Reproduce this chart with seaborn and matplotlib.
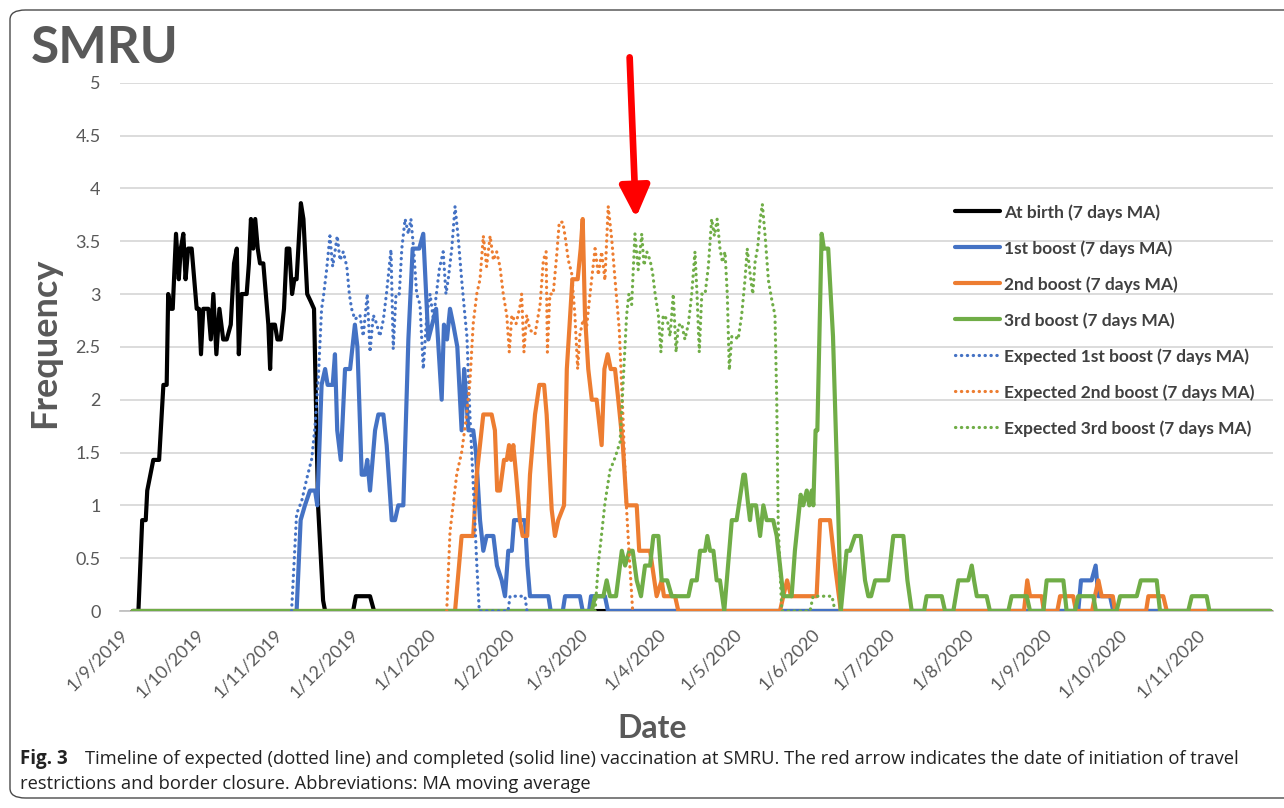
import numpy as np
import pandas as pd
import matplotlib
matplotlib.use("Agg")
import matplotlib.pyplot as plt
import seaborn as sns
from matplotlib.patches import FancyBboxPatch

# ---------------- data (day offsets from 1 Sep 2019, 7-day MA values) ----------------
START = pd.Timestamp("2019-09-01")
END = pd.Timestamp("2020-12-01")

birth_days = [5, 7.3, 8.8, 10.2, 10.8, 13.2, 15.5, 17.2, 18.5, 19.1,
              20.1, 20.9, 22.2, 23.3, 24.1, 25.1, 26.0, 27.0, 28.4, 30.4,
              31.3, 32.1, 33.0, 35.0, 36.0, 37.0, 38.2, 39.4, 40.9, 42.3,
              43.9, 45.2, 46.3, 47.1, 48.2, 50.2, 51.1, 51.9, 52.8, 53.6,
              54.6, 55.5, 56.8, 58.8, 59.5, 60.1, 61.4, 62.4, 63.7, 65.0,
              66.1, 67.1, 68.2, 69.1, 70.0, 71.7, 72.7, 74.2, 75.6, 76.9,
              78.5, 80.5, 81.3, 92.4, 93.5, 99.1, 100.7, 456]
birth_vals = [0, 0, 0.86, 0.86, 1.14, 1.43, 1.43, 2.14, 2.14, 3.0,
              2.86, 2.86, 3.57, 3.14, 3.43, 3.57, 3.14, 3.43, 3.43, 2.86,
              2.86, 2.43, 2.86, 2.86, 2.57, 3.0, 2.43, 2.86, 2.57, 2.57,
              2.71, 3.29, 3.43, 2.43, 3.0, 3.0, 3.29, 3.71, 3.43, 3.71,
              3.43, 3.29, 3.29, 2.71, 2.29, 2.71, 2.71, 2.57, 2.57, 2.86,
              3.43, 3.43, 3.0, 3.14, 3.14, 3.86, 3.71, 3.0, 2.93, 2.86,
              1.0, 0.1, 0, 0, 0.14, 0.14, 0, 0]

boost1_days = [5, 70.0, 71.6, 73.3, 75.3, 77.3, 78.2, 79.9, 81.3, 82.3,
               84.3, 85.2, 86.1, 87.5, 89.2, 91.2, 93.1, 94.1, 95.8, 97.1,
               98.0, 99.1, 101.1, 102.4, 104.4, 105.7, 107.7, 109.0, 110.3, 112.3,
               114.3, 116.0, 118.6, 120.2, 122.2, 123.7, 125.3, 127.5, 128.4, 129.6,
               130.8, 132.1, 133.7, 135.4, 136.4, 137.1, 138.1, 140.0, 141.1, 142.7,
               144.0, 145.3, 148.0, 149.4, 151.3, 152.6, 153.9, 155.3, 156.2, 160.5,
               161.5, 162.5, 169.8, 170.7, 175.5, 176.4, 182.3, 183.4, 185.9, 186.7,
               192.2, 193.4, 379.8, 380.9, 385.1, 386.7, 387.8, 392.4, 393.7, 456]
boost1_vals = [0, 0, 0.86, 1.0, 1.14, 1.14, 1.0, 2.14, 2.29, 2.14,
               2.14, 2.43, 1.71, 1.43, 2.29, 2.29, 2.71, 2.5, 1.29, 1.29,
               1.43, 1.14, 1.71, 1.86, 1.86, 1.57, 0.86, 0.86, 1.0, 1.0,
               2.57, 3.43, 3.43, 3.57, 2.57, 2.71, 2.86, 2.0, 2.71, 2.57,
               2.86, 2.71, 2.5, 1.71, 2.29, 2.06, 1.71, 1.71, 1.5, 0.86,
               0.57, 0.71, 0.71, 0.43, 0.29, 0.14, 0.57, 0.57, 0.86, 0.86,
               0.43, 0.14, 0.14, 0, 0, 0.14, 0.14, 0, 0, 0.14,
               0.14, 0, 0, 0.29, 0.29, 0.43, 0.14, 0.14, 0, 0]

boost2_days = [5, 132.8, 135.4, 140.0, 141.4, 144.0, 147.3, 148.6, 149.5, 150.6,
               152.2, 153.3, 154.2, 155.0, 155.9, 157.0, 158.5, 159.6, 161.4, 162.5,
               164.5, 166.2, 168.1, 169.1, 171.1, 172.4, 173.7, 176.0, 177.1, 178.2,
               179.3, 181.4, 182.6, 183.4, 184.3, 185.6, 187.0, 188.9, 190.9, 192.0,
               193.3, 194.5, 196.2, 197.5, 199.3, 200.8, 204.8, 205.8, 210.1, 212.7,
               214.7, 215.6, 220.0, 221.3, 261.6, 262.9, 264.4, 266.0, 276.1, 277.5,
               281.4, 283.4, 285.7, 358.3, 359.6, 360.7, 365.3, 366.2, 371.5, 372.6,
               377.8, 378.9, 385.3, 386.4, 387.8, 389.1, 393.5, 394.4, 406.7, 407.6,
               413.5, 414.9, 456]
boost2_vals = [0, 0, 0.71, 0.71, 1.29, 1.86, 1.86, 1.71, 1.14, 1.14,
               1.43, 1.43, 1.57, 1.43, 1.57, 1.29, 0.86, 0.71, 0.71, 1.29,
               1.86, 2.14, 2.14, 1.86, 0.96, 0.71, 0.86, 1.0, 2.29, 2.71,
               3.14, 3.14, 3.43, 3.71, 2.8, 2.29, 2.0, 2.0, 1.57, 2.29,
               2.43, 2.29, 2.29, 2.0, 1.57, 1.0, 1.0, 0.57, 0.57, 0.14,
               0.29, 0.14, 0.14, 0, 0, 0.14, 0.29, 0.14, 0.14, 0.86,
               0.86, 0.43, 0, 0, 0.29, 0.14, 0.14, 0, 0, 0.14,
               0.14, 0, 0, 0.14, 0.29, 0.14, 0.14, 0, 0, 0.14,
               0.14, 0, 0]

boost3_days = [5, 187.0, 188.3, 191.6, 192.9, 194.2, 196.6, 198.9, 200.2, 201.9,
               203.2, 204.8, 206.5, 208.1, 210.1, 211.4, 213.4, 214.7, 216.9, 218.7,
               225.3, 226.6, 228.6, 229.9, 231.9, 232.8, 233.9, 235.2, 236.5, 237.8,
               239.5, 242.5, 244.4, 247.1, 247.7, 249.0, 249.7, 250.3, 252.1, 253.7,
               255.0, 256.3, 258.9, 260.3, 261.6, 262.9, 266.2, 267.5, 269.8, 270.8,
               272.2, 273.2, 274.2, 274.8, 275.7, 276.4, 278.1, 279.0, 280.7, 282.6,
               284.6, 285.7, 288.0, 289.3, 291.3, 293.6, 295.3, 296.6, 297.7, 299.3,
               304.5, 306.5, 310.5, 312.1, 313.8, 318.7, 319.7, 325.7, 327.0, 330.3,
               332.3, 336.2, 337.6, 338.5, 339.6, 343.5, 344.8, 352.1, 353.4, 359.4,
               360.7, 366.0, 367.3, 373.9, 375.2, 378.5, 379.8, 385.8, 386.8, 395.0,
               396.4, 403.0, 404.6, 410.9, 412.2, 423.4, 424.8, 430.7, 431.8, 456]
boost3_vals = [0, 0, 0.14, 0.14, 0.29, 0.14, 0.14, 0.57, 0.43, 0.57,
               0.57, 0.29, 0.14, 0.43, 0.43, 0.71, 0.71, 0.29, 0.29, 0.14,
               0.14, 0.29, 0.29, 0.57, 0.57, 0.71, 0.57, 0.57, 0.29, 0.29,
               0, 0.86, 0.86, 1.29, 1.29, 1.0, 0.86, 1.0, 1.0, 0.71,
               1.0, 0.86, 0.86, 0.71, 0.43, 0.14, 0.14, 0.57, 1.1, 1.0,
               1.14, 1.0, 1.14, 1.0, 1.71, 1.71, 3.57, 3.43, 3.43, 2.6,
               1.0, 0, 0.57, 0.57, 0.71, 0.71, 0.29, 0.14, 0.14, 0.29,
               0.29, 0.71, 0.71, 0.29, 0, 0, 0.14, 0.14, 0, 0,
               0.29, 0.29, 0.43, 0.29, 0.14, 0.14, 0, 0, 0.14, 0.14,
               0, 0, 0.29, 0.29, 0, 0, 0.14, 0.14, 0, 0,
               0.14, 0.14, 0.29, 0.29, 0, 0, 0.14, 0.14, 0, 0]

exp1_days = [68.0, 70.0, 72.0, 74.0, 76.0, 77.3, 78.6, 79.9, 80.6, 81.9,
             83.2, 84.3, 85.2, 86.1, 87.2, 88.5, 89.9, 90.9, 91.8, 93.1,
             95.1, 96.4, 98.0, 99.1, 100.4, 101.7, 103.0, 104.4, 105.7, 107.4,
             108.3, 109.4, 110.7, 111.7, 113.0, 114.3, 115.3, 116.3, 117.6, 118.9,
             120.2, 121.6, 122.9, 124.2, 125.5, 126.6, 128.1, 129.2, 130.1, 131.5,
             132.8, 134.1, 135.4, 136.7, 137.5, 138.7, 140.0, 141.4, 142.4, 153.8,
             154.6, 160.5, 161.3]
exp1_vals = [0, 0.92, 1.04, 1.25, 1.44, 1.75, 2.2, 2.86, 2.97, 3.23,
             3.55, 3.26, 3.4, 3.55, 3.32, 3.4, 3.26, 3.0, 2.86, 2.76,
             2.8, 2.6, 3.0, 2.45, 2.8, 2.72, 2.6, 2.76, 3.02, 3.42,
             2.48, 3.0, 3.0, 3.43, 3.71, 3.57, 3.71, 3.45, 3.0, 2.9,
             2.29, 2.8, 3.0, 2.76, 3.02, 3.24, 3.4, 3.0, 3.14, 3.43,
             3.83, 3.52, 3.14, 2.8, 2.6, 1.85, 1.2, 0.45, 0, 0,
             0.14, 0.14, 0]

exp2_days = [129.5, 130.8, 133.5, 135.4, 137.1, 138.7, 140.0, 141.4, 142.7, 144.0,
             145.3, 146.7, 148.0, 149.3, 150.6, 151.9, 153.3, 154.3, 155.3, 157.0,
             158.5, 159.2, 160.1, 161.2, 162.5, 164.5, 166.5, 167.8, 168.9, 169.4,
             170.4, 171.7, 173.1, 174.1, 175.5, 176.4, 177.7, 179.0, 180.3, 181.4,
             182.3, 183.6, 185.0, 186.3, 188.3, 189.6, 190.9, 192.2, 193.5, 194.9,
             196.2, 197.9, 199.3, 200.6, 201.9, 203.2]
exp2_vals = [0, 0.75, 1.3, 1.5, 1.8, 2.17, 2.72, 3.0, 3.14, 3.55,
             3.26, 3.55, 3.32, 3.4, 3.26, 3.0, 2.8, 2.45, 2.8, 2.72,
             2.88, 3.0, 2.45, 2.8, 2.66, 2.62, 2.9, 3.32, 3.4, 2.45,
             3.0, 3.0, 3.37, 3.68, 3.68, 3.55, 3.32, 3.2, 2.8, 2.29,
             2.62, 2.76, 2.7, 3.0, 3.43, 3.18, 3.4, 3.13, 3.83, 3.52,
             3.14, 2.66, 1.87, 1.04, 0.5, 0]

exp3_days = [188.3, 189.6, 190.9, 192.2, 194.2, 196.2, 198.2, 199.5, 200.8, 201.7,
             202.8, 204.1, 205.4, 206.8, 207.7, 208.8, 210.1, 211.1, 212.1, 213.4,
             214.4, 215.3, 216.9, 218.0, 219.3, 220.4, 221.3, 222.6, 223.9, 225.3,
             226.6, 227.9, 228.7, 229.6, 230.6, 231.9, 233.2, 234.5, 235.6, 236.7,
             237.8, 238.8, 239.8, 240.7, 241.5, 242.5, 243.8, 245.0, 246.4, 247.7,
             248.6, 249.7, 250.8, 251.7, 252.8, 253.7, 254.6, 255.7, 257.0, 258.3,
             259.6, 260.3, 260.9, 262.3, 273.5, 274.7, 282.2, 283.4]
exp3_vals = [0, 0.45, 0.73, 1.02, 1.33, 1.45, 1.6, 2.2, 2.8, 3.0,
             2.9, 3.57, 3.23, 3.57, 3.27, 3.4, 3.32, 3.2, 3.0, 2.8,
             2.45, 2.8, 2.76, 2.6, 3.0, 2.45, 2.7, 2.72, 2.57, 2.72,
             3.0, 3.4, 3.0, 2.45, 3.0, 3.0, 3.26, 3.71, 3.55, 3.71,
             3.43, 3.3, 3.4, 3.0, 2.28, 2.6, 2.6, 2.57, 2.8, 3.13,
             3.43, 3.2, 3.0, 3.3, 3.45, 3.7, 3.85, 3.55, 3.13, 2.95,
             2.8, 2.0, 0.8, 0, 0, 0.14, 0.14, 0]

series_labels = ["At birth (7 days MA)", "1st boost (7 days MA)", "2nd boost (7 days MA)",
                 "3rd boost (7 days MA)", "Expected 1st boost (7 days MA)",
                 "Expected 2nd boost (7 days MA)", "Expected 3rd boost (7 days MA)"]
tick_months = pd.date_range("2019-09-01", "2020-11-01", freq="MS")
arrow_date = START + pd.Timedelta(days=204.5)

# ---------------- styling ----------------
sns.set_theme(style="white")
plt.rcParams["font.family"] = ["Lato", "DejaVu Sans"]

W, H = 1284, 808
fig = plt.figure(figsize=(W / 100, H / 100), dpi=100)
fig.patch.set_facecolor("white")

# rounded frame around everything
frame = FancyBboxPatch((10 / W, 10 / H), 1.2, (798 - 10) / H,
                       boxstyle="round,pad=0,rounding_size=0.012",
                       transform=fig.transFigure, fill=False,
                       edgecolor="#4a4a4a", linewidth=1.0, clip_on=False)
fig.patches.append(frame)

ax = fig.add_axes([120 / W, 1 - 611 / H, (1273 - 120) / W, (611 - 82.7) / H])

def to_dates(days):
    return START + pd.to_timedelta(np.asarray(days, dtype=float), unit="D")

colors = ["#000000", "#4472C4", "#ED7D31", "#70AD47", "#4472C4", "#ED7D31", "#70AD47"]
all_days = [birth_days, boost1_days, boost2_days, boost3_days, exp1_days, exp2_days, exp3_days]
all_vals = [birth_vals, boost1_vals, boost2_vals, boost3_vals, exp1_vals, exp2_vals, exp3_vals]

handles = []
for i, (lab, d, v, c) in enumerate(zip(series_labels, all_days, all_vals, colors)):
    df = pd.DataFrame({"Date": to_dates(d), "Frequency": v})
    dotted = i >= 4
    kw = dict(linestyle=(0, (0.1, 1.75)), linewidth=2.3, dash_capstyle="round") if dotted \
        else dict(linestyle="-", linewidth=3.0, solid_joinstyle="round")
    sns.lineplot(data=df, x="Date", y="Frequency", ax=ax, color=c, estimator=None,
                 sort=False, label=lab, legend=False, zorder=3 + i, **kw)
    handles.append(ax.get_lines()[-1])

ax.set_xlim(START, END)
ax.set_ylim(0, 5)
ax.set_yticks(np.arange(0, 5.01, 0.5))
ax.set_yticklabels(["0", "0.5", "1", "1.5", "2", "2.5", "3", "3.5", "4", "4.5", "5"])
ax.set_xticks(tick_months)
ax.set_xticklabels([f"{d.day}/{d.month}/{d.year}" for d in tick_months],
                   rotation=45, ha="right", rotation_mode="anchor")
ax.grid(axis="y", color="#D9D9D9", linewidth=1.3)
ax.grid(axis="x", visible=False)
ax.set_axisbelow(True)
for s in ["top", "right", "left"]:
    ax.spines[s].set_visible(False)
ax.spines["bottom"].set_color("#BFBFBF")
ax.tick_params(axis="y", length=0, pad=14, labelsize=13, labelcolor="#595959")
ax.tick_params(axis="x", length=5, width=1, color="#BFBFBF", direction="out",
               pad=6, labelsize=13, labelcolor="#595959")
ax.set_xlabel("")
ax.set_ylabel("")

# red arrow (travel restrictions)
ax.annotate("", xy=(arrow_date, 3.72), xytext=(arrow_date - pd.Timedelta(days=2.5), 5.24),
            annotation_clip=False,
            arrowprops=dict(arrowstyle="-|>,head_length=0.95,head_width=0.45",
                            mutation_scale=20, color="#FF0000", lw=4.8,
                            shrinkA=0, shrinkB=0))

# legend
leg = ax.legend(handles=handles, labels=series_labels, loc="upper left",
                bbox_to_anchor=(948 / W, 1 - 197 / H), bbox_transform=fig.transFigure,
                frameon=False, fontsize=12.5, handlelength=2.6, handletextpad=0.25,
                labelspacing=1.12, borderaxespad=0)
for t in leg.get_texts():
    t.set_color("#404040")
    t.set_fontweight("bold")

# titles and captions
fig.text(31 / W, 1 - 63 / H, "SMRU", fontsize=37, fontweight="bold", color="#595959",
         ha="left", va="baseline")
fig.text(45 / W, 1 - 343 / H, "Frequency", fontsize=26, fontweight="bold", color="#595959",
         rotation=90, ha="center", va="center")
fig.text(652 / W, 1 - 728 / H, "Date", fontsize=23, fontweight="bold", color="#595959",
         ha="center", va="center")
cap_font = ["Open Sans", "DejaVu Sans"]
fig.text(20 / W, 1 - 764 / H, "Fig. 3", fontsize=13.5, fontweight="bold", color="#222222",
         ha="left", va="baseline", family=cap_font)
fig.text(85 / W, 1 - 764 / H,
         "Timeline of expected (dotted line) and completed (solid line) vaccination at SMRU. "
         "The red arrow indicates the date of initiation of travel",
         fontsize=13.2, color="#222222", ha="left", va="baseline", family=cap_font)
fig.text(20 / W, 1 - 789 / H,
         "restrictions and border closure. Abbreviations: MA moving average",
         fontsize=13.2, color="#222222", ha="left", va="baseline", family=cap_font)

fig.savefig("out.png", dpi=100, facecolor="white")
